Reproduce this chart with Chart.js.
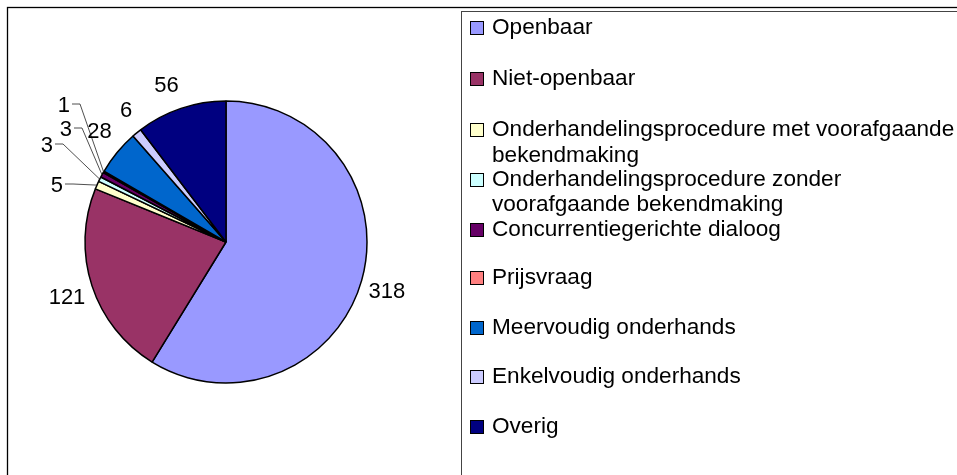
<!DOCTYPE html>
<html>
<head>
<meta charset="utf-8">
<script src="https://cdn.jsdelivr.net/npm/chart.js@4.4.1/dist/chart.umd.min.js"></script>
<style>
  html, body { margin: 0; padding: 0; background: #fff; }
  #wrap { width: 957px; height: 475px; position: relative; overflow: hidden; }
</style>
</head>
<body>
<div id="wrap"><canvas id="c" width="957" height="475"></canvas></div>
<script>
// ---- data ----
const categories = [
  'Openbaar',
  'Niet-openbaar',
  'Onderhandelingsprocedure met voorafgaande bekendmaking',
  'Onderhandelingsprocedure zonder voorafgaande bekendmaking',
  'Concurrentiegerichte dialoog',
  'Prijsvraag',
  'Meervoudig onderhands',
  'Enkelvoudig onderhands',
  'Overig'
];
const values = [318, 121, 5, 3, 3, 1, 28, 6, 56];
const sliceColors = ['#9999FF', '#993366', '#FFFFCC', '#CCFFFF', '#660066', '#FF8080', '#0066CC', '#CCCCFF', '#000080'];
// legend text as wrapped in the reference
const legendLines = [
  ['Openbaar'],
  ['Niet-openbaar'],
  ['Onderhandelingsprocedure met voorafgaande', 'bekendmaking'],
  ['Onderhandelingsprocedure zonder', 'voorafgaande bekendmaking'],
  ['Concurrentiegerichte dialoog'],
  ['Prijsvraag'],
  ['Meervoudig onderhands'],
  ['Enkelvoudig onderhands'],
  ['Overig']
];

// ---- layout (not data) ----
const LEGEND_FONT = '22.6px "Liberation Sans", Arial, sans-serif';
const LABEL_FONT = '22px "Liberation Sans", Arial, sans-serif';
const legendBaselines = [[34], [85], [136, 162], [186, 211], [236], [284], [334], [383], [433]];
// labels moved off small slices, with leader lines: [text right x, baseline y]
const leaderLabelPos = { 2: [63, 192], 3: [53, 152], 4: [72, 136], 5: [70, 112] };

const decor = {
  id: 'decor',
  afterDraw(chart) {
    const ctx = chart.ctx;
    ctx.save();
    // outer frame
    ctx.strokeStyle = '#000';
    ctx.lineWidth = 1.3;
    ctx.strokeRect(7.5, 7.5, 1200, 1000);
    // legend box
    ctx.lineWidth = 1;
    ctx.strokeStyle = '#444';
    ctx.strokeRect(461.5, 11.5, 1200, 1000);

    // legend
    ctx.font = LEGEND_FONT;
    ctx.textBaseline = 'alphabetic';
    ctx.textAlign = 'left';
    legendLines.forEach((lines, i) => {
      const b0 = legendBaselines[i][0];
      ctx.fillStyle = sliceColors[i];
      ctx.fillRect(470, b0 - 13, 14, 14);
      ctx.strokeStyle = '#000';
      ctx.strokeRect(470.5, b0 - 12.5, 13, 13);
      ctx.fillStyle = '#000';
      lines.forEach((t, j) => ctx.fillText(t, 492, legendBaselines[i][j]));
    });

    // data labels
    const meta = chart.getDatasetMeta(0);
    ctx.font = LABEL_FONT;
    ctx.fillStyle = '#000';
    meta.data.forEach((arc, i) => {
      const mid = (arc.startAngle + arc.endAngle) / 2;
      const R = arc.outerRadius;
      const c = Math.cos(mid), s = Math.sin(mid);
      const txt = String(values[i]);
      if (leaderLabelPos[i]) {
        const [tx, ty] = leaderLabelPos[i];
        ctx.textAlign = 'right';
        ctx.fillText(txt, tx, ty);
        const ly = ty - 8;
        ctx.strokeStyle = '#222';
        ctx.lineWidth = 0.8;
        ctx.beginPath();
        ctx.moveTo(tx + 2, ly);
        ctx.lineTo(tx + 10, ly);
        ctx.lineTo(arc.x + R * c, arc.y + R * s);
        ctx.stroke();
      } else {
        const ax = arc.x + (R + 7) * c;
        const ay = arc.y + (R + 7) * s;
        ctx.textAlign = c >= 0 ? 'left' : 'right';
        const by = s >= 0 ? ay + 16 : ay - 10;
        ctx.fillText(txt, ax, by);
      }
    });
    ctx.restore();
  }
};

new Chart(document.getElementById('c'), {
  type: 'pie',
  data: {
    labels: categories,
    datasets: [{
      data: values,
      backgroundColor: sliceColors,
      borderColor: '#000',
      borderWidth: 1.5
    }]
  },
  options: {
    responsive: false,
    animation: false,
    radius: 141,
    layout: { padding: { left: 85, right: 590, top: 101, bottom: 92 } },
    plugins: {
      legend: { display: false },
      tooltip: { enabled: false }
    }
  },
  plugins: [decor]
});
</script>
</body>
</html>
